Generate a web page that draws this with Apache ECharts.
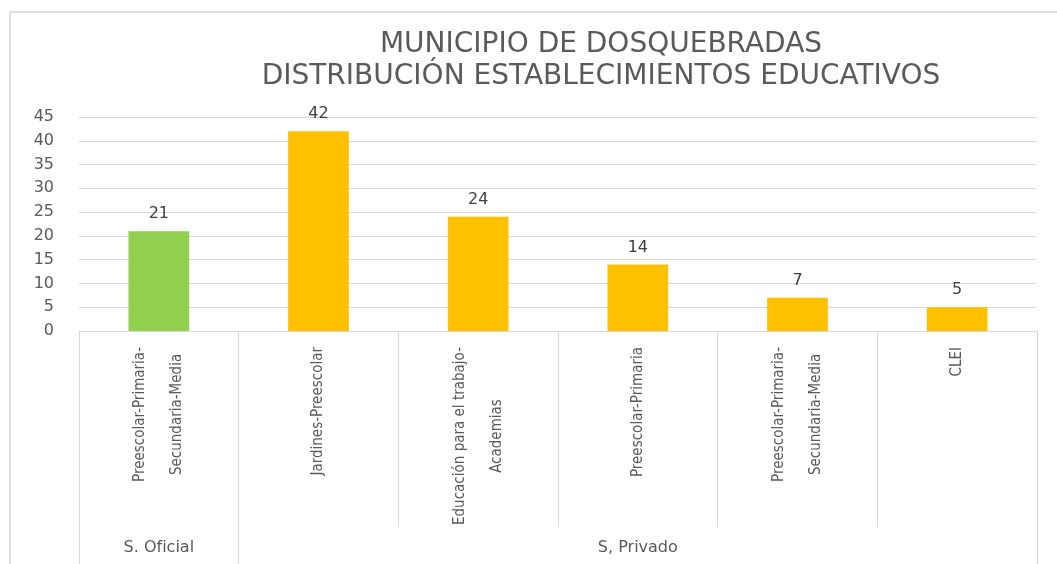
<!DOCTYPE html>
<html lang="es">
<head>
    <meta charset="UTF-8">
    <title>Establecimientos educativos</title>
    <script src="https://cdn.jsdelivr.net/npm/echarts@6/dist/echarts.min.js"></script>
    <style>
        html, body { margin: 0; padding: 0; background: #fff; overflow: hidden; }
        #main { position: absolute; left: 0; top: 0; width: 1057px; height: 564px; }
        /* borde del area del grafico */
        #marco { position: absolute; left: 9px; top: 11px; width: 1100px; height: 600px;
                 border: 2px solid #dedede; pointer-events: none; }
    </style>
</head>
<body>
<div id="main"></div>
<div id="marco"></div>
<script type="text/javascript">
    // datos
    var categorias = ['Preescolar-Primaria-\nSecundaria-Media', 'Jardines-Preescolar',
        'Educación para el trabajo-\nAcademias', 'Preescolar-Primaria',
        'Preescolar-Primaria-\nSecundaria-Media', 'CLEI'];
    var valores = [21, 42, 24, 14, 7, 5];
    var grupos = ['S. Oficial', 'S, Privado'];
    var tamGrupo = [1, 5];
    var coloresGrupo = ['#92d050', '#ffc000'];
    var ticksY = [0, 5, 10, 15, 20, 25, 30, 35, 40, 45];

    // grupo de cada categoria
    var grupoDe = [], inicioGrupo = [], centroGrupo = [];
    var k = 0;
    for (var g = 0; g < grupos.length; g++) {
        inicioGrupo.push(k);
        centroGrupo.push(k + Math.floor(tamGrupo[g] / 2));
        for (var j = 0; j < tamGrupo[g]; j++) { grupoDe.push(g); k++; }
    }

    var myChart = echarts.init(document.getElementById('main'));
    var gris = '#d9d9d9';

    var option = {
        animation: false,
        title: {
            text: 'MUNICIPIO DE DOSQUEBRADAS\nDISTRIBUCIÓN ESTABLECIMIENTOS EDUCATIVOS',
            left: 596, top: 24, textAlign: 'center',
            textStyle: { fontFamily: 'DejaVu Sans', fontWeight: 'normal', fontSize: 28, color: '#5a5a5a', lineHeight: 32 }
        },
        grid: { left: 79, right: 20, top: 117, bottom: 233, containLabel: false },
        xAxis: [
            {
                type: 'category',
                data: categorias,
                axisLine: { lineStyle: { color: gris, width: 1 } },
                axisTick: { show: true, interval: 0, length: 196, lineStyle: { color: gris } },
                axisLabel: {
                    interval: 0, rotate: 90, margin: 16,
                    formatter: function (v) {
                        return v.split('\n').map(function (s) { return '{c|' + s + '}'; }).join('\n');
                    },
                    rich: { c: { align: 'center', fontFamily: "'DejaVu Sans Condensed', 'Liberation Sans Narrow', sans-serif", fontSize: 15, lineHeight: 37, color: '#595959' } }
                }
            },
            {
                type: 'category',
                position: 'bottom',
                offset: 196,
                data: grupoDe.map(function (g) { return grupos[g]; }),
                axisLine: { show: false },
                axisTick: {
                    show: true, length: 40, lineStyle: { color: gris },
                    interval: function (i) { return inicioGrupo.indexOf(i) >= 0; }
                },
                axisLabel: {
                    interval: 0, margin: 13, fontFamily: 'DejaVu Sans', fontSize: 16, color: '#595959',
                    formatter: function (v, i) { return centroGrupo.indexOf(i) >= 0 ? v : ''; }
                }
            }
        ],
        yAxis: {
            type: 'value', min: ticksY[0], max: ticksY[ticksY.length - 1], interval: ticksY[1] - ticksY[0],
            axisLine: { show: false }, axisTick: { show: false },
            axisLabel: { margin: 25, fontFamily: 'DejaVu Sans', fontSize: 16, color: '#595959' },
            splitLine: { lineStyle: { color: gris, width: 1 } }
        },
        series: [{
            type: 'bar',
            barWidth: '38%',
            data: valores.map(function (v, i) {
                return { value: v, itemStyle: { color: coloresGrupo[grupoDe[i]] } };
            }),
            label: { show: true, position: 'top', distance: 9, fontFamily: 'DejaVu Sans', fontSize: 16, color: '#404040' }
        }]
    };
    myChart.setOption(option);
</script>
</body>
</html>
